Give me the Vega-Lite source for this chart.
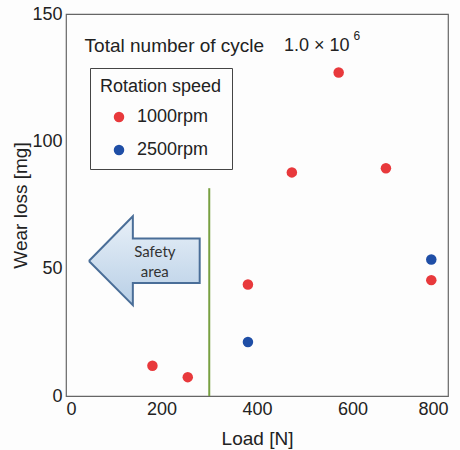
{
  "$schema": "https://vega.github.io/schema/vega-lite/v6.json",
  "width": 382,
  "height": 382,
  "autosize": {"type": "none"},
  "padding": {"left": 66, "top": 14, "right": 12, "bottom": 54},
  "background": "#fdfdfd",
  "config": {
    "view": {"stroke": "#666", "strokeWidth": 1.2},
    "font": "Liberation Sans",
    "axis": {"grid": true, "gridColor": "#555", "gridOpacity": 1, "gridWidth": 1.2, "gridDash": [5, 372, 5], "domain": false, "ticks": false, "labelFontSize": 18, "labelColor": "#222", "titleFontSize": 19, "titleFontWeight": "normal", "titleColor": "#222", "labelFont": "Liberation Sans", "titleFont": "Liberation Sans"}
  },
  "resolve": {"axis": {"x": "independent", "y": "independent"}},
  "layer": [
    {
      "data": {"values": [
        {"x": 48, "y": 53},
        {"x": 140, "y": 70.6},
        {"x": 140, "y": 61.8},
        {"x": 280, "y": 61.8},
        {"x": 280, "y": 44.4},
        {"x": 140, "y": 44.4},
        {"x": 140, "y": 35.7},
        {"x": 48, "y": 53}
      ]},
      "mark": {"type": "line", "stroke": "#4a6e98", "strokeWidth": 2, "strokeJoin": "miter",
        "fill": {"gradient": "linear", "x1": 0, "y1": 0, "x2": 0, "y2": 1, "stops": [{"offset": 0, "color": "#e8f0f8"}, {"offset": 1, "color": "#b8cfe6"}]}},
      "encoding": {
        "x": {"field": "x", "type": "quantitative", "scale": {"domain": [0, 800], "nice": false}, "axis": null},
        "y": {"field": "y", "type": "quantitative", "scale": {"domain": [0, 150], "nice": false}, "axis": null},
        "order": {"value": null}
      }
    },
    {
      "data": {"values": [
        {"x": 186, "y": 56.6, "t": "Safety"},
        {"x": 186, "y": 48.7, "t": "area"}
      ]},
      "mark": {"type": "text", "font": "Lato", "fontSize": 15, "color": "#333", "align": "center", "baseline": "middle"},
      "encoding": {
        "x": {"field": "x", "type": "quantitative", "axis": null},
        "y": {"field": "y", "type": "quantitative", "axis": null},
        "text": {"field": "t"}
      }
    },
    {
      "data": {"values": [{"x": 300, "y": 0, "y2": 81.6}]},
      "mark": {"type": "rule", "color": "#78a042", "strokeWidth": 2},
      "encoding": {
        "x": {"field": "x", "type": "quantitative", "axis": null},
        "y": {"field": "y", "type": "quantitative", "axis": null},
        "y2": {"field": "y2"}
      }
    },
    {
      "data": {"values": [
        {"load": 181, "wear": 11.9, "speed": "1000rpm"},
        {"load": 255, "wear": 7.4, "speed": "1000rpm"},
        {"load": 381, "wear": 43.8, "speed": "1000rpm"},
        {"load": 381, "wear": 21.2, "speed": "2500rpm"},
        {"load": 473, "wear": 87.8, "speed": "1000rpm"},
        {"load": 571, "wear": 127, "speed": "1000rpm"},
        {"load": 670, "wear": 89.4, "speed": "1000rpm"},
        {"load": 765, "wear": 45.5, "speed": "1000rpm"},
        {"load": 765, "wear": 53.6, "speed": "2500rpm"}
      ]},
      "mark": {"type": "circle", "size": 110, "opacity": 1},
      "encoding": {
        "x": {"field": "load", "type": "quantitative",
          "axis": {"orient": "bottom", "values": [0,100,200,300,400,500,600,700,800], "labelExpr": "datum.value % 200 == 0 ? datum.label : ''", "title": "Load [N]", "labelPadding": 4, "titlePadding": 11}},
        "y": {"field": "wear", "type": "quantitative",
          "axis": {"orient": "left", "values": [0,25,50,75,100,125,150], "labelExpr": "datum.value % 50 == 0 ? datum.label : ''", "title": "Wear loss [mg]", "labelPadding": 4, "titlePadding": 1}},
        "color": {"field": "speed", "type": "nominal",
          "scale": {"domain": ["1000rpm", "2500rpm"], "range": ["#e8393c", "#1f4ea6"]},
          "legend": {"orient": "none", "legendX": 24, "legendY": 54, "title": "Rotation speed", "titleFontSize": 18, "titleFontWeight": "normal", "titleColor": "#222", "titleFont": "Liberation Sans", "labelFont": "Liberation Sans", "labelFontSize": 18, "labelColor": "#222", "symbolType": "circle", "symbolSize": 110, "symbolStrokeWidth": 0, "strokeColor": "#444", "fillColor": "#fdfdfd", "padding": 10, "titlePadding": 12, "rowPadding": 15, "symbolOffset": 10, "labelOffset": 9}}
      }
    },
    {
      "data": {"values": [{"x": 39, "y": 137.6, "t": "Total number of cycle"}]},
      "mark": {"type": "text", "fontSize": 19, "color": "#222", "align": "left", "baseline": "middle"},
      "encoding": {
        "x": {"field": "x", "type": "quantitative", "axis": null},
        "y": {"field": "y", "type": "quantitative", "axis": null},
        "text": {"field": "t"}
      }
    },
    {
      "data": {"values": [{"x": 594, "y": 137.6, "t": "1.0 × 10"}]},
      "mark": {"type": "text", "fontSize": 18, "color": "#222", "align": "right", "baseline": "middle"},
      "encoding": {
        "x": {"field": "x", "type": "quantitative", "axis": null},
        "y": {"field": "y", "type": "quantitative", "axis": null},
        "text": {"field": "t"}
      }
    },
    {
      "data": {"values": [{"x": 602, "y": 141.5, "t": "6"}]},
      "mark": {"type": "text", "fontSize": 12, "color": "#222", "align": "left", "baseline": "middle"},
      "encoding": {
        "x": {"field": "x", "type": "quantitative", "axis": null},
        "y": {"field": "y", "type": "quantitative", "axis": null},
        "text": {"field": "t"}
      }
    }
  ]
}
